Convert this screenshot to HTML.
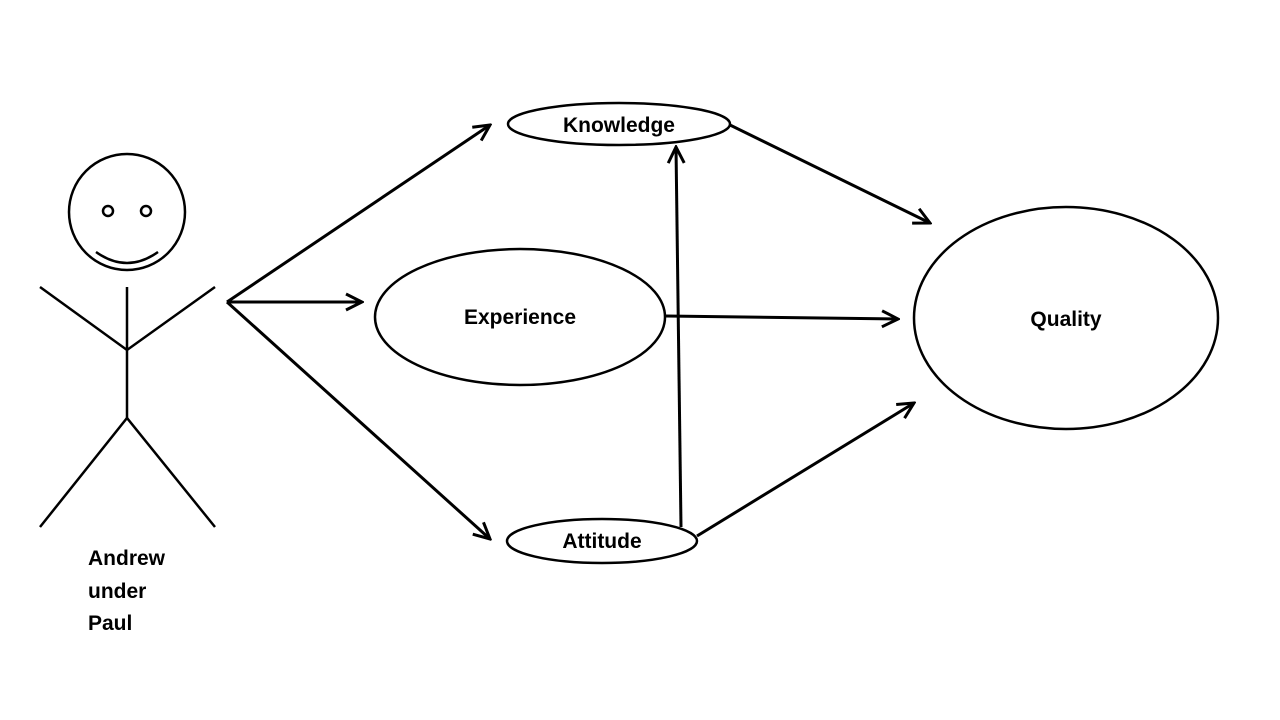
<!DOCTYPE html>
<html><head><meta charset="utf-8"><style>
html,body{margin:0;padding:0;background:#fff;}
svg{display:block}
text{font-family:"Liberation Sans",sans-serif;font-weight:bold;font-size:21px;fill:#000}
</style></head><body>
<svg width="1280" height="720" viewBox="0 0 1280 720">
<defs>
<marker id="a" viewBox="0 0 20 20" refX="18" refY="10" markerWidth="20" markerHeight="20" markerUnits="userSpaceOnUse" orient="auto">
<path d="M2,2 L18,10 L2,18" fill="none" stroke="#000" stroke-width="3"/>
</marker>
</defs>
<g fill="none" stroke="#000" stroke-width="2.5">
<circle cx="127" cy="212" r="58"/>
<circle cx="108" cy="211" r="5"/>
<circle cx="146" cy="211" r="5"/>
<path d="M96,252 Q127,274 158,252"/>
<line x1="127" y1="287" x2="127" y2="418"/>
<polyline points="40,287 127,350 215,287"/>
<polyline points="40,527 127,418 215,527"/>
<ellipse cx="619" cy="124" rx="111" ry="21"/>
<ellipse cx="520" cy="317" rx="145" ry="68"/>
<ellipse cx="602" cy="541" rx="95" ry="22"/>
<ellipse cx="1066" cy="318" rx="152" ry="111"/>
<g stroke-width="3" marker-end="url(#a)">
<line x1="227" y1="302" x2="490" y2="125"/>
<line x1="227" y1="302" x2="362" y2="302"/>
<line x1="227" y1="302" x2="490" y2="539"/>
<line x1="730" y1="125" x2="930" y2="223"/>
<line x1="666" y1="316" x2="898" y2="319"/>
<line x1="697" y1="536" x2="914" y2="403"/>
<line x1="681" y1="527" x2="676" y2="147"/>
</g>
</g>
<text x="619" y="132" text-anchor="middle">Knowledge</text>
<text x="520" y="324" text-anchor="middle">Experience</text>
<text x="602" y="548" text-anchor="middle">Attitude</text>
<text x="1066" y="326" text-anchor="middle">Quality</text>
<text x="88" y="565">Andrew</text>
<text x="88" y="598">under</text>
<text x="88" y="630">Paul</text>
</svg>
</body></html>
